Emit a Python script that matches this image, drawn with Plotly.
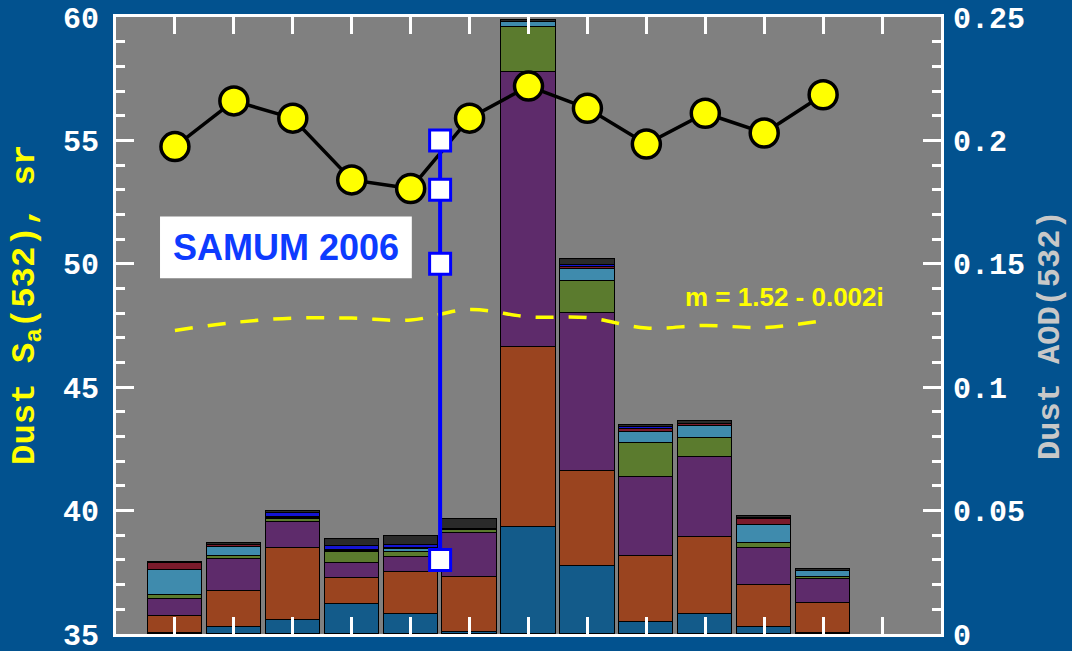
import plotly.graph_objects as go

# Case index along the campaign (bars and lidar-ratio points share these slots)
slots = list(range(1, 13))
x_ticks = list(range(1, 14))

# Dust AOD(532) contributions, stacked bottom -> top
aod_c1 = [0.0004, 0.0028, 0.0057, 0.0122, 0.0081, 0.0008, 0.0434, 0.0276, 0.0049, 0.0081, 0.0028, 0.0004]
aod_c2 = [0.0068, 0.0146, 0.0292, 0.0105, 0.0170, 0.0223, 0.0729, 0.0385, 0.0267, 0.0312, 0.0170, 0.0122]
aod_c3 = [0.0069, 0.0130, 0.0105, 0.0061, 0.0061, 0.0178, 0.1114, 0.0640, 0.0320, 0.0324, 0.0150, 0.0097]
aod_c4 = [0.0016, 0.0012, 0.0012, 0.0045, 0.0020, 0.0012, 0.0182, 0.0130, 0.0138, 0.0077, 0.0020, 0.0008]
aod_c5 = [0.0101, 0.0036, 0.0004, 0.0004, 0.0012, 0.0004, 0.0020, 0.0049, 0.0045, 0.0049, 0.0073, 0.0024]
aod_c6 = [0.0028, 0.0008, 0.0003, 0.0004, 0.0006, 0.0000, 0.0000, 0.0008, 0.0012, 0.0008, 0.0024, 0.0000]
aod_c7 = [0.0000, 0.0000, 0.0016, 0.0016, 0.0012, 0.0000, 0.0000, 0.0008, 0.0008, 0.0000, 0.0004, 0.0000]
aod_c8 = [0.0004, 0.0008, 0.0010, 0.0028, 0.0036, 0.0040, 0.0008, 0.0024, 0.0008, 0.0012, 0.0008, 0.0008]
layer_colors = ["#135b8a", "#9a441f", "#5e2b6b", "#5b7b2e", "#3f8bad", "#7b1a2b", "#1414d2", "#2a2a2a"]

# Dust lidar ratio Sa(532), sr
sa_dust = [54.75, 56.6, 55.9, 53.4, 53.05, 55.9, 57.2, 56.3, 54.85, 56.1, 55.3, 56.85]
# Modelled Sa for refractive index m = 1.52 - 0.002i
sa_model = [47.3, 47.62, 47.8, 47.8, 47.72, 48.15, 47.85, 47.82, 47.4, 47.5, 47.42, 47.7]
# SAMUM 2006 measurements
samum_x = [5.5, 5.5, 5.5, 5.5]
samum_sa = [55, 53, 50, 38]

BG = "#02528f"
PLOT_BG = "#808080"
MONO = "Liberation Mono"

fig = go.Figure()

for vals, col in zip([aod_c1, aod_c2, aod_c3, aod_c4, aod_c5, aod_c6, aod_c7, aod_c8], layer_colors):
    fig.add_trace(go.Bar(
        x=slots, y=vals, width=0.92, yaxis="y",
        marker=dict(color=col, line=dict(color="black", width=1.5)),
        showlegend=False,
    ))

fig.add_trace(go.Scatter(
    x=slots, y=sa_model, yaxis="y2", mode="lines", line_shape="spline",
    line=dict(color="#ffff00", width=3.5, dash="18px,15px"), showlegend=False,
))
fig.add_trace(go.Scatter(
    x=slots, y=sa_dust, yaxis="y2", mode="lines+markers",
    line=dict(color="black", width=3.5),
    marker=dict(size=28, color="#ffff00", line=dict(color="black", width=3.5)),
    showlegend=False,
))
fig.add_trace(go.Scatter(
    x=samum_x, y=samum_sa, yaxis="y2", mode="lines+markers",
    line=dict(color="#0000ff", width=4),
    marker=dict(symbol="square", size=21, color="white", line=dict(color="#0000ff", width=3)),
    showlegend=False,
))

tick_font = dict(family=MONO, size=30, color="white", weight="bold")

fig.update_layout(
    width=1072, height=651,
    margin=dict(l=116, r=131, t=17, b=17),
    paper_bgcolor=BG, plot_bgcolor=PLOT_BG,
    barmode="stack", bargap=0,
    xaxis=dict(
        range=[0, 14], tickvals=x_ticks, showticklabels=False,
        ticks="inside", ticklen=17, tickwidth=3, tickcolor="white",
        showline=True, linewidth=3, linecolor="white", mirror="ticks",
        showgrid=False, zeroline=False, automargin=False,
    ),
    yaxis=dict(
        range=[0, 0.25], side="right", tickvals=[0, 0.05, 0.1, 0.15, 0.2, 0.25],
        ticktext=["0", "0.05", "0.1", "0.15", "0.2", "0.25"],
        ticks="inside", ticklen=18, tickwidth=3, tickcolor="white",
        minor=dict(dtick=0.01, ticks="inside", ticklen=9, tickwidth=3, tickcolor="white"),
        showline=True, linewidth=3, linecolor="white",
        tickfont=tick_font, ticklabelstandoff=3, ticklabeloverflow="allow",
        showgrid=False, zeroline=False, automargin=False,
    ),
    yaxis2=dict(
        range=[35, 60], side="left", overlaying="y", dtick=5,
        ticks="inside", ticklen=18, tickwidth=3, tickcolor="white",
        minor=dict(dtick=1, ticks="inside", ticklen=9, tickwidth=3, tickcolor="white"),
        showline=True, linewidth=3, linecolor="white",
        tickfont=tick_font, ticklabelstandoff=8, ticklabeloverflow="allow",
        showgrid=False, zeroline=False, automargin=False,
    ),
    shapes=[dict(
        type="rect", xref="x", yref="y2", x0=0.747, x1=5.02, y0=49.41, y1=51.92,
        fillcolor="white", line=dict(width=0), layer="above",
    )],
    annotations=[
        dict(text="SAMUM 2006", x=2.885, y=50.67, xref="x", yref="y2",
             showarrow=False, font=dict(family="Liberation Sans", size=36, color="#0d3bff", weight="bold")),
        dict(text="m = 1.52 - 0.002i", x=11.35, y=48.64, xref="x", yref="y2",
             showarrow=False, font=dict(family="Liberation Sans", size=26, color="#ffff00", weight="bold")),
        dict(text="Dust S<sub>a</sub>(532), sr", x=-0.136, y=0.533, xref="paper", yref="paper",
             textangle=-90, showarrow=False,
             font=dict(family=MONO, size=34, color="#ffff00", weight="bold")),
        dict(text="Dust AOD(532)", x=1.157, y=0.4846, xref="paper", yref="paper",
             textangle=-90, showarrow=False,
             font=dict(family=MONO, size=32, color="#c8c8c8", weight="bold")),
    ],
)

fig.write_html("out.html")
